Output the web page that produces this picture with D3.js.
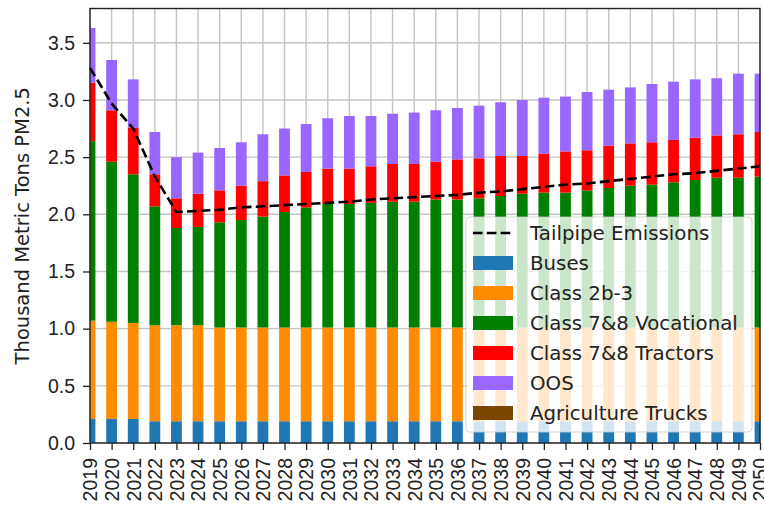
<!DOCTYPE html>
<html>
<head>
<meta charset="utf-8">
<script src="https://cdn.jsdelivr.net/npm/d3@7"></script>
<style>
  body { margin: 0; padding: 0; background: #fff; }
  svg { display: block; font-family: 'DejaVu Sans', sans-serif; }
  .axis text { font-size: 19.5px; fill: #222; }
  .axis path, .axis line { stroke: #222; }
</style>
</head>
<body>
<svg id="chart" width="764" height="512"></svg>
<script>
// values in thousand metric tons PM2.5
const years = d3.range(2019, 2051)
const buses = [0.21, 0.21, 0.21, 0.19, 0.19, 0.19, 0.19, 0.19, 0.19, 0.19, 0.19, 0.19, 0.19, 0.19, 0.19, 0.19,
  0.19, 0.19, 0.19, 0.19, 0.19, 0.19, 0.19, 0.19, 0.19, 0.19, 0.19, 0.19, 0.19, 0.19, 0.19, 0.19]
const class2b3 = [0.86, 0.85, 0.84, 0.84, 0.84, 0.84, 0.82, 0.82, 0.82, 0.82, 0.82, 0.82, 0.82, 0.82, 0.82, 0.82,
  0.82, 0.82, 0.82, 0.82, 0.82, 0.82, 0.82, 0.82, 0.82, 0.82, 0.82, 0.82, 0.82, 0.82, 0.82, 0.82]
const vocational = [1.57, 1.40, 1.30, 1.04, 0.85, 0.86, 0.92, 0.94, 0.97, 1.01, 1.05, 1.08, 1.08, 1.09, 1.10, 1.10,
  1.12, 1.12, 1.13, 1.15, 1.17, 1.18, 1.18, 1.20, 1.22, 1.24, 1.25, 1.27, 1.29, 1.31, 1.31, 1.32]
const tractors = [0.51, 0.45, 0.41, 0.28, 0.26, 0.29, 0.28, 0.30, 0.31, 0.32, 0.31, 0.31, 0.31, 0.32, 0.33, 0.33,
  0.33, 0.35, 0.35, 0.35, 0.33, 0.34, 0.36, 0.35, 0.37, 0.37, 0.37, 0.37, 0.37, 0.37, 0.38, 0.39]
const oos = [0.48, 0.44, 0.42, 0.37, 0.36, 0.36, 0.37, 0.38, 0.41, 0.41, 0.42, 0.44, 0.46, 0.44, 0.44, 0.45,
  0.45, 0.45, 0.46, 0.47, 0.49, 0.49, 0.48, 0.51, 0.49, 0.49, 0.51, 0.51, 0.51, 0.50, 0.53, 0.51]
const agriculture = years.map(() => 0)
const tailpipe = [3.28, 2.97, 2.75, 2.33, 2.02, 2.03, 2.04, 2.06, 2.07, 2.08, 2.09, 2.10, 2.11, 2.13, 2.14, 2.15,
  2.16, 2.17, 2.19, 2.20, 2.22, 2.24, 2.26, 2.27, 2.29, 2.31, 2.33, 2.35, 2.36, 2.38, 2.40, 2.42]
const yTicks = [0, 0.5, 1.0, 1.5, 2.0, 2.5, 3.0, 3.5]

const keys = ['Buses', 'Class 2b-3', 'Class 7&8 Vocational', 'Class 7&8 Tractors', 'OOS', 'Agriculture Trucks']
const colors = ['#1f77b4', '#ff8c00', '#008000', '#ff0000', '#9966ff', '#7a4700']
const seriesArrays = [buses, class2b3, vocational, tractors, oos, agriculture]

const table = years.map((yr, i) => {
  const row = {year: yr}
  keys.forEach((k, j) => { row[k] = seriesArrays[j][i] })
  return row
})

const plotLeft = 90, plotRight = 760, plotTop = 8.5, plotBottom = 443

const svg = d3.select('#chart')

const x = d3.scalePoint().domain(years).range([plotLeft, plotRight])
const barW = x.step() * 0.5
const y = d3.scaleLinear().domain([0, 3.8]).range([plotBottom, plotTop])

svg.append('defs').append('clipPath')
  .attr('id', 'plot')
  .append('rect')
  .attr('x', plotLeft).attr('y', plotTop)
  .attr('width', plotRight - plotLeft).attr('height', plotBottom - plotTop)

// grid
const grid = svg.append('g').attr('stroke', '#c4c4c4').attr('stroke-width', 1.4)
grid.selectAll('line.v')
  .data(years)
  .enter()
  .append('line')
  .attr('x1', d => x(d)).attr('x2', d => x(d))
  .attr('y1', plotTop).attr('y2', plotBottom)
grid.selectAll('line.h')
  .data(yTicks)
  .enter()
  .append('line')
  .attr('x1', plotLeft).attr('x2', plotRight)
  .attr('y1', d => y(d)).attr('y2', d => y(d))

// stacked bars
const stacked = d3.stack().keys(keys)(table)
const g = svg.append('g').attr('clip-path', 'url(#plot)')
g.selectAll('g.series')
  .data(stacked)
  .enter()
  .append('g')
  .attr('class', 'series')
  .attr('fill', (d, i) => colors[i])
  .selectAll('rect')
  .data(d => d)
  .enter()
  .append('rect')
  .attr('x', d => x(d.data.year) - barW / 2)
  .attr('width', barW)
  .attr('y', d => y(d[1]))
  .attr('height', d => y(d[0]) - y(d[1]))

// tailpipe line
const line = d3.line()
  .x((d, i) => x(years[i]))
  .y(d => y(d))
svg.append('path')
  .datum(tailpipe)
  .attr('fill', 'none')
  .attr('stroke', '#000')
  .attr('stroke-width', 2.6)
  .attr('stroke-dasharray', '9.6,4.2')
  .attr('d', line)

// axes
const xAxis = svg.append('g')
  .attr('class', 'axis')
  .attr('transform', `translate(0,${plotBottom})`)
  .call(d3.axisBottom(x).tickSize(7).tickPadding(7).tickSizeOuter(0))
xAxis.select('.domain').remove()
xAxis.selectAll('line').attr('stroke-width', 1.3)
xAxis.selectAll('text')
  .attr('transform', 'rotate(-90)')
  .attr('x', -15)
  .attr('y', 0)
  .attr('dy', '0.35em')
  .style('text-anchor', 'end')

const yAxis = svg.append('g')
  .attr('class', 'axis')
  .attr('transform', `translate(${plotLeft},0)`)
  .call(d3.axisLeft(y).tickValues(yTicks).tickFormat(d3.format('.1f')).tickSize(7).tickPadding(8).tickSizeOuter(0))
yAxis.select('.domain').remove()
yAxis.selectAll('line').attr('stroke-width', 1.3)

// frame
svg.append('rect')
  .attr('x', plotLeft).attr('y', plotTop)
  .attr('width', plotRight - plotLeft).attr('height', plotBottom - plotTop)
  .attr('fill', 'none')
  .attr('stroke', '#222')
  .attr('stroke-width', 1.4)

svg.append('text')
  .attr('transform', `translate(29,${(plotTop + plotBottom) / 2}) rotate(-90)`)
  .attr('text-anchor', 'middle')
  .attr('font-size', 19.5)
  .attr('fill', '#222')
  .text('Thousand Metric Tons PM2.5')

// legend
const lg = svg.append('g').attr('transform', 'translate(466,217)')
lg.append('rect')
  .attr('width', 286).attr('height', 215)
  .attr('rx', 4)
  .attr('fill', '#fff').attr('fill-opacity', 0.8)
  .attr('stroke', '#ccc').attr('stroke-opacity', 0.8)

const entries = [{name: 'Tailpipe Emissions', line: true}]
  .concat(keys.map((k, i) => ({name: k, color: colors[i]})))

const item = lg.selectAll('g.item')
  .data(entries)
  .enter()
  .append('g')
  .attr('transform', (d, i) => `translate(0,${16 + i * 30})`)

item.filter(d => d.line)
  .append('line')
  .attr('x1', 7).attr('x2', 47)
  .attr('stroke', '#000').attr('stroke-width', 2.6)
  .attr('stroke-dasharray', '9.6,4.2')

item.filter(d => !d.line)
  .append('rect')
  .attr('x', 7).attr('y', -7)
  .attr('width', 40).attr('height', 14)
  .attr('fill', d => d.color)

item.append('text')
  .attr('x', 64)
  .attr('dy', '0.35em')
  .attr('font-size', 19.8)
  .attr('fill', '#222')
  .text(d => d.name)
</script>
</body>
</html>
